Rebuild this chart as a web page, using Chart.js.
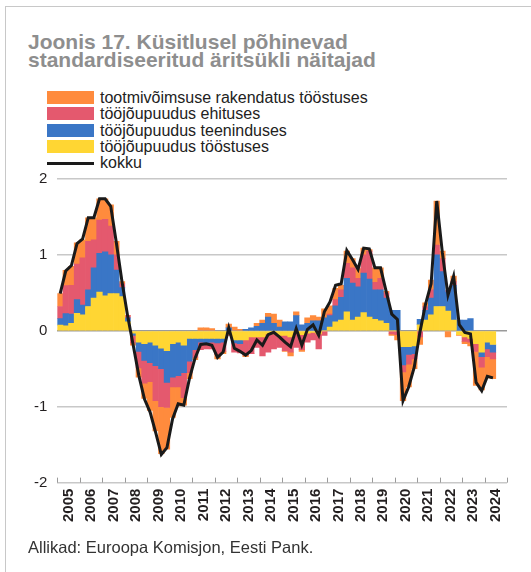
<!DOCTYPE html>
<html>
<head>
<meta charset="utf-8">
<script src="https://cdn.jsdelivr.net/npm/chart.js@4/dist/chart.umd.min.js"></script>
<style>
  html, body { margin:0; padding:0; background:#fff; }
  body { width:531px; height:572px; position:relative; overflow:hidden; font-family:"Liberation Sans", Arial, sans-serif; }
  #frame { position:absolute; left:5px; top:6px; width:540px; height:600px; border-left:1.5px solid #c8c8c8; border-top:1.5px solid #c8c8c8; }
  #title { position:absolute; left:28px; top:33px; font-size:21px; font-weight:bold; color:#8e8e8e; line-height:18px; }
  #legend { position:absolute; left:47px; top:90px; font-size:16px; color:#222; }
  .li { height:16.3px; line-height:16.3px; position:relative; white-space:nowrap; }
  .sw { position:absolute; left:0; top:1px; width:47px; height:13px; }
  .ln { position:absolute; left:0; top:7px; width:47px; height:3px; background:#1a1a1a; }
  .tx { position:absolute; left:53px; top:0; }
  #src { position:absolute; left:28px; top:538px; font-size:16.5px; color:#333; }
  #wrap { position:absolute; left:0; top:0; width:531px; height:572px; }
</style>
</head>
<body>
<div id="frame"></div>
<div id="title">Joonis 17. Küsitlusel põhinevad<br>standardiseeritud äritsükli näitajad</div>
<div id="legend"></div>
<div id="wrap"><canvas id="c" width="531" height="572"></canvas></div>
<div id="src">Allikad: Euroopa Komisjon, Eesti Pank.</div>
<script>
const years = ["2005","2006","2007","2008","2009","2010","2011","2012","2013","2014","2015","2016","2017","2018","2019","2020","2021","2022","2023","2024"];
const quarters = ["I","II","III","IV"];
const categories = [];
years.forEach(y => quarters.forEach(q => categories.push(y + " " + q)));

const seriesNames = ["tootmivõimsuse rakendatus tööstuses","tööjõupuudus ehituses","tööjõupuudus teeninduses","tööjõupuudus tööstuses","kokku"];

const toostusTooojoud = [0.075,0.066,0.1,0.23,0.21,0.32,0.43,0.51,0.46,0.49,
 0.49,0.45,0.12,-0.03,-0.15,-0.17,-0.15,-0.19,-0.23,-0.26,
 -0.17,-0.15,-0.19,-0.1,-0.1,-0.1,-0.1,-0.1,-0.1,-0.1,
 -0.04,-0.12,-0.12,-0.12,-0.08,-0.08,-0.08,-0.04,-0.04,-0.06,
 -0.06,-0.08,-0.02,-0.05,-0.03,-0.02,-0.04,0.0,0.05,0.12,
 0.14,0.25,0.14,0.18,0.24,0.18,0.15,0.13,0.1,0.0,
 0.0,-0.21,-0.21,-0.2,0.08,0.14,0.21,0.32,0.32,0.26,
 0.14,-0.05,-0.08,-0.1,-0.17,-0.28,-0.15,-0.18];

const teenindus = [0.085,0.16,0.12,0.18,0.13,0.22,0.4,0.51,0.58,0.51,
 0.31,0.12,0.05,-0.03,-0.12,-0.22,-0.27,-0.27,-0.27,-0.42,
 -0.44,-0.44,-0.36,-0.3,-0.15,-0.05,-0.06,-0.05,-0.06,-0.05,
 0.04,-0.04,-0.05,0.02,0.04,0.06,0.1,0.18,0.1,0.05,
 0.12,0.12,0.2,0.08,0.1,0.13,0.13,0.17,0.15,0.21,
 0.3,0.44,0.49,0.4,0.52,0.5,0.39,0.41,0.33,0.27,
 0.27,-0.24,-0.1,-0.1,0.07,0.13,0.22,0.68,0.46,0.25,
 0.46,0.14,0.14,0.16,0.0,-0.06,-0.09,-0.1];

const ehitus = [0.16,0.37,0.38,0.47,0.62,0.64,0.37,0.44,0.43,0.38,
 0.2,0.05,0.03,-0.1,-0.22,-0.3,-0.25,-0.46,-0.5,-0.33,
 -0.13,-0.15,-0.33,-0.15,-0.1,-0.1,-0.08,-0.09,-0.15,-0.12,
 -0.02,-0.12,-0.12,-0.2,-0.22,-0.14,-0.25,-0.24,-0.2,-0.16,
 -0.2,-0.2,-0.2,-0.2,-0.12,-0.1,-0.2,-0.06,0.02,0.08,
 0.1,0.2,0.2,0.11,0.24,0.37,0.1,0.15,0.07,-0.04,
 -0.05,-0.09,-0.13,-0.07,-0.08,0.05,0.11,0.13,0.17,0.02,
 0.05,0.0,-0.06,-0.05,-0.1,-0.14,-0.1,-0.09];

const rakendatus = [0.17,0.2,0.25,0.28,0.24,0.31,0.29,0.28,0.27,0.28,
 0.18,0.03,0.0,-0.03,-0.12,-0.2,-0.38,-0.4,-0.62,-0.55,
 -0.4,-0.25,-0.1,-0.08,-0.03,0.04,0.04,0.03,-0.06,-0.03,
 0.05,0.05,0.02,-0.02,0.0,0.04,0.04,0.05,0.12,0.09,
 -0.01,-0.05,0.05,-0.02,0.07,0.07,0.05,0.12,0.11,0.15,
 0.06,0.16,0.12,0.13,0.09,0.02,0.19,0.14,0.02,-0.02,
 -0.07,-0.38,-0.3,-0.13,-0.1,0.05,0.13,0.58,0.1,-0.08,
 0.07,-0.01,-0.03,-0.05,-0.45,-0.3,-0.28,-0.26];

const kokku = [0.49,0.79,0.86,1.15,1.21,1.49,1.49,1.74,1.74,1.64,
 1.16,0.65,0.2,-0.19,-0.59,-0.9,-1.07,-1.34,-1.63,-1.54,
 -1.16,-0.96,-0.98,-0.63,-0.36,-0.18,-0.17,-0.19,-0.35,-0.28,
 0.04,-0.23,-0.27,-0.32,-0.26,-0.12,-0.19,-0.05,-0.02,-0.08,
 -0.15,-0.21,0.03,-0.19,0.02,0.08,-0.06,0.25,0.38,0.6,
 0.62,1.06,0.94,0.81,1.09,1.08,0.83,0.83,0.52,0.22,
 0.15,-0.92,-0.74,-0.48,-0.02,0.35,0.62,1.71,1.03,0.47,
 0.72,0.08,-0.02,-0.04,-0.68,-0.79,-0.6,-0.62];

const yTicks = [-2,-1,0,1,2];

const colors = { orange:"#ff8b3d", red:"#e4596e", blue:"#3a76c6", yellow:"#ffd633", line:"#1a1a1a" };

// HTML legend
const legendItems = [
  {name: seriesNames[0], color: colors.orange},
  {name: seriesNames[1], color: colors.red},
  {name: seriesNames[2], color: colors.blue},
  {name: seriesNames[3], color: colors.yellow},
  {name: seriesNames[4], line: true}
];
const lg = document.getElementById('legend');
legendItems.forEach(it => {
  const d = document.createElement('div'); d.className = 'li';
  const s = document.createElement('div');
  if (it.line) { s.className = 'ln'; } else { s.className = 'sw'; s.style.background = it.color; }
  const t = document.createElement('span'); t.className = 'tx'; t.textContent = it.name;
  d.appendChild(s); d.appendChild(t); lg.appendChild(d);
});

const innerTicks = {
  id: 'innerTicks',
  afterDraw(chart) {
    const sc = chart.scales.x2, ca = chart.chartArea, ctx = chart.ctx;
    ctx.save();
    ctx.strokeStyle = '#9a9a9a';
    ctx.lineWidth = 1;
    for (let v = 0; v <= years.length * 4; v += 4) {
      const x = Math.round(sc.getPixelForValue(v)) + 0.5;
      ctx.beginPath();
      ctx.moveTo(x, ca.bottom);
      ctx.lineTo(x, ca.bottom - 5);
      ctx.stroke();
    }
    ctx.restore();
  }
};

const barCommon = { type:'bar', stack:'s', barPercentage:1, categoryPercentage:1, borderWidth:0, order:1 };

new Chart(document.getElementById('c'), {
  data: {
    labels: categories,
    datasets: [
      { type:'line', label: seriesNames[4], data: kokku, stack:'line', borderColor: colors.line, borderWidth:3, pointRadius:0, tension:0, fill:false, order:0, borderJoinStyle:'miter' },
      Object.assign({ label: seriesNames[3], data: toostusTooojoud, backgroundColor: colors.yellow }, barCommon),
      Object.assign({ label: seriesNames[2], data: teenindus, backgroundColor: colors.blue }, barCommon),
      Object.assign({ label: seriesNames[1], data: ehitus, backgroundColor: colors.red }, barCommon),
      Object.assign({ label: seriesNames[0], data: rakendatus, backgroundColor: colors.orange }, barCommon)
    ]
  },
  options: {
    responsive:false,
    animation:false,
    devicePixelRatio:1,
    layout: { padding: { left: 24, right: 14.5, top: 179, bottom: 44 } },
    plugins: { legend: { display:false }, tooltip: { enabled:false } },
    scales: {
      x: { type:'category', display:false, stacked:true, offset:true },
      x2: {
        type:'linear', position:'bottom', min:0, max: years.length * 4,
        afterBuildTicks: (axis) => {
          const t = [];
          for (let v = 0; v <= years.length * 4; v += 2) t.push({ value: v });
          axis.ticks = t;
        },
        ticks: {
          autoSkip:false, minRotation:90, maxRotation:90, padding:6,
          color:'#231f20', font: { family:'"Liberation Sans", Arial, sans-serif', size:15, weight:'bold' },
          callback: (v) => (v % 4 === 2) ? years[(v - 2) / 4] : ''
        },
        grid: { drawOnChartArea:false, drawTicks:false },
        border: { display:false }
      },
      y: {
        stacked:true, min:-2, max:2,
        afterBuildTicks: (axis) => { axis.ticks = yTicks.map(v => ({ value: v })); },
        ticks: { padding:10, color:'#231f20', font: { family:'"Liberation Sans", Arial, sans-serif', size:15 } },
        grid: { drawTicks:false, lineWidth:1.5, color: (ctx) => (ctx.tick && ctx.tick.value === 0) ? '#9a9a9a' : '#c8c8c8' },
        border: { display:false }
      }
    }
  },
  plugins: [innerTicks]
});
</script>
</body>
</html>
